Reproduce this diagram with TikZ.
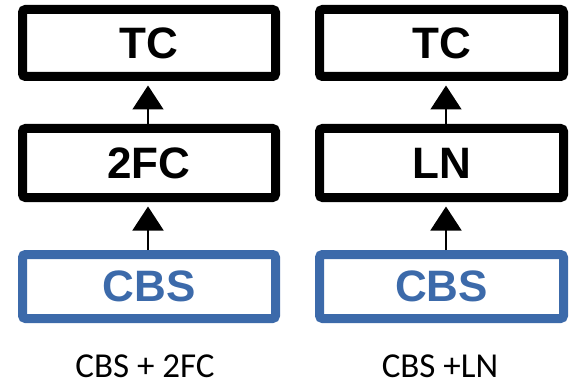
\documentclass[tikz,border=0pt]{standalone}
\usepackage{fontspec}
\setmainfont{Liberation Sans}
\newfontfamily\capfont{Carlito}
\usetikzlibrary{arrows.meta}
\definecolor{cbsblue}{RGB}{60,106,170}
\begin{document}
\begin{tikzpicture}[x=1pt,y=-1pt,
  layer/.style={draw=black, line width=9pt, rounded corners=3pt, inner sep=0pt,
    font=\fontsize{44}{44}\selectfont\bfseries, fill=white},
  cbsbox/.style={layer, draw=cbsblue, text=cbsblue},
  flow/.style={line width=1.6pt, shorten >=4.5pt, -{Triangle[width=31pt,length=24pt]}},
  caption/.style={font=\capfont\fontsize{35}{35}\selectfont, anchor=base}]
\useasboundingbox (0,0) rectangle (570,385);
% left column
\node[layer, minimum width=253pt, minimum height=67pt] (tcA) at (149,43) {TC};
\node[layer, minimum width=253pt, minimum height=69pt] (fcA) at (149,163) {2FC};
\node[cbsbox, minimum width=253pt, minimum height=64pt] (cbsA) at (149,286.5) {CBS};
% right column
\node[layer, minimum width=244pt, minimum height=67pt] (tcB) at (441.5,43) {TC};
\node[layer, minimum width=244pt, minimum height=69pt] (lnB) at (441.5,163) {LN};
\node[cbsbox, minimum width=244pt, minimum height=64pt] (cbsB) at (441.5,286.5) {CBS};
% connectors
\draw[flow] (cbsA.north -| 148,0) -- (fcA.south -| 148,0);
\draw[flow] (fcA.north -| 148,0) -- (tcA.south -| 148,0);
\draw[flow] (cbsB.north -| 446,0) -- (lnB.south -| 446,0);
\draw[flow] (lnB.north -| 446,0) -- (tcB.south -| 446,0);
% captions
\node[caption] (capA) at (145,377) {CBS + 2FC};
\node[caption] (capB) at (440,377) {CBS +LN};
\end{tikzpicture}
\end{document}
